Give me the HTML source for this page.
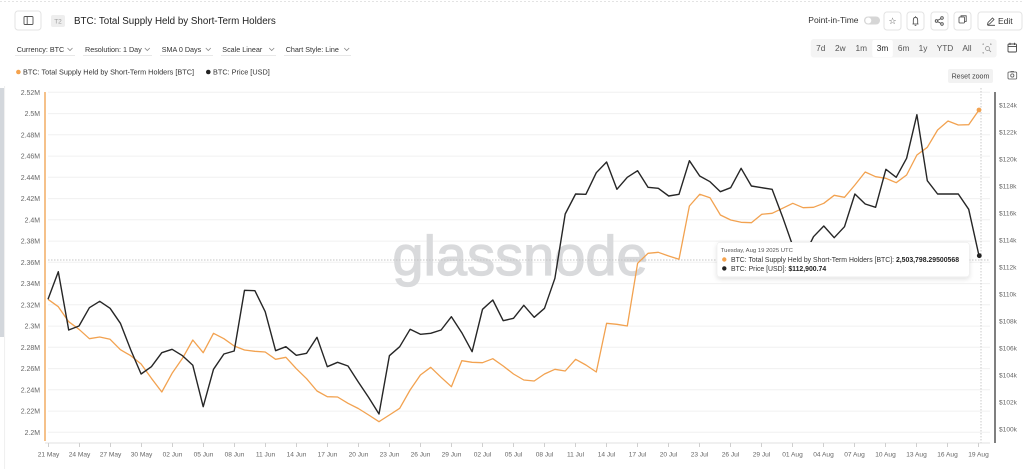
<!DOCTYPE html>
<html>
<head>
<meta charset="utf-8">
<style>
  html,body{margin:0;padding:0;background:#fff;}
  body{width:1024px;height:469px;overflow:hidden;}
  svg{display:block;font-family:"Liberation Sans","DejaVu Sans",sans-serif;}
</style>
</head>
<body>
<svg width="1024" height="469" viewBox="0 0 1024 469" xmlns="http://www.w3.org/2000/svg">
  <defs>
    <filter id="sh" x="-10%" y="-30%" width="120%" height="180%">
      <feDropShadow dx="0" dy="2" stdDeviation="2.5" flood-color="#000" flood-opacity="0.12"/>
    </filter>
  </defs>
  <rect width="1024" height="469" fill="#fff"/>
  <line x1="0" y1="1.5" x2="1024" y2="1.5" stroke="#e3e3e3" stroke-dasharray="2,2"/>
  <rect x="0" y="88" width="4" height="249" fill="#d3d7dc"/>
  <line x1="4.6" y1="86" x2="4.6" y2="469" stroke="#eeeeee"/>

  <rect x="15" y="11" width="26" height="19" rx="3" fill="#fff" stroke="#e3e3e3"/>
  <rect x="24" y="16.5" width="9" height="8" rx="1" fill="none" stroke="#555" stroke-width="0.9"/>
  <line x1="27.2" y1="16.5" x2="27.2" y2="24.5" stroke="#555" stroke-width="0.9"/>
  <rect x="51" y="15" width="14" height="12" rx="2" fill="#eeeeee"/>
  <text x="58" y="23.3" font-size="6.5" fill="#9a9a9a" text-anchor="middle">T2</text>
  <text x="74" y="23.8" font-size="9.8" fill="#222">BTC: Total Supply Held by Short-Term Holders</text>

  <text x="808.3" y="23" font-size="8.5" fill="#333">Point-in-Time</text>
  <rect x="864" y="16.5" width="16" height="8" rx="4" fill="#d6d6d6"/>
  <circle cx="868.3" cy="20.5" r="3" fill="#fff"/>

  <rect x="884" y="12" width="17" height="18" rx="3" fill="#fff" stroke="#e3e3e3"/>
  <text x="892.5" y="24.2" font-size="9" fill="#444" text-anchor="middle" font-family="DejaVu Sans">☆</text>
  <rect x="907" y="12" width="17" height="18" rx="3" fill="#fff" stroke="#e3e3e3"/>
  <path d="M912.5,24 L918.5,24 M913.3,24 L913.3,20.5 Q913.3,17.3 915.5,17.3 Q917.7,17.3 917.7,20.5 L917.7,24 M915.5,16.3 L915.5,17.3 M914.7,25.3 L916.3,25.3" stroke="#444" stroke-width="0.8" fill="none"/>
  <rect x="931" y="12" width="17" height="18" rx="3" fill="#fff" stroke="#e3e3e3"/>
  <circle cx="936.5" cy="21" r="1.3" fill="none" stroke="#444" stroke-width="0.8"/>
  <circle cx="942" cy="18" r="1.3" fill="none" stroke="#444" stroke-width="0.8"/>
  <circle cx="942" cy="24" r="1.3" fill="none" stroke="#444" stroke-width="0.8"/>
  <path d="M937.6,20.4 L940.9,18.6 M937.6,21.6 L940.9,23.4" stroke="#444" stroke-width="0.8"/>
  <rect x="954" y="12" width="17" height="18" rx="3" fill="#fff" stroke="#e3e3e3"/>
  <rect x="959" y="17" width="5.5" height="6" rx="0.8" fill="none" stroke="#444" stroke-width="0.8"/>
  <path d="M961,17 L961,15.8 L966.2,15.8 L966.2,21.5 L964.5,21.5" fill="none" stroke="#444" stroke-width="0.8"/>
  <rect x="978" y="12" width="44" height="18" rx="3" fill="#fff" stroke="#e3e3e3"/>
  <path d="M987.5,24.5 L988,22.5 L992.5,18 L994,19.5 L989.5,24 Z M987.5,25.3 L995,25.3" fill="none" stroke="#444" stroke-width="0.8"/>
  <text x="998" y="23.8" font-size="8.5" fill="#333">Edit</text>

  <g font-size="7.2" fill="#333">
    <text x="16.7" y="51.8">Currency: BTC</text>
    <text x="85" y="51.8">Resolution: 1 Day</text>
    <text x="161.7" y="51.8">SMA 0 Days</text>
    <text x="222.3" y="51.8">Scale Linear</text>
    <text x="285.7" y="51.8">Chart Style: Line</text>
  </g>
  <g stroke="#888" stroke-width="0.8" fill="none">
    <polyline points="67.5,48 70,50.5 72.5,48"/>
    <polyline points="144.8,48 147.3,50.5 149.8,48"/>
    <polyline points="205.8,48 208.3,50.5 210.8,48"/>
    <polyline points="269.2,48 271.7,50.5 274.2,48"/>
    <polyline points="344.2,48 346.7,50.5 349.2,48"/>
  </g>
  <g stroke="#e8e8e8" stroke-width="1">
    <line x1="15" y1="55.5" x2="75" y2="55.5"/>
    <line x1="83" y1="55.5" x2="152" y2="55.5"/>
    <line x1="160" y1="55.5" x2="213" y2="55.5"/>
    <line x1="221" y1="55.5" x2="276" y2="55.5"/>
    <line x1="284" y1="55.5" x2="351" y2="55.5"/>
  </g>

  <rect x="810.7" y="39" width="186" height="18.5" rx="3" fill="#f4f4f4"/>
  <rect x="872.3" y="40" width="20.5" height="17" rx="2" fill="#fff"/>
  <g font-size="8.3" fill="#555" text-anchor="middle">
    <text x="820.7" y="51.2">7d</text>
    <text x="840.3" y="51.2">2w</text>
    <text x="861.3" y="51.2">1m</text>
    <text x="882.5" y="51.2" fill="#222">3m</text>
    <text x="903.7" y="51.2">6m</text>
    <text x="923" y="51.2">1y</text>
    <text x="945" y="51.2">YTD</text>
    <text x="967" y="51.2">All</text>
  </g>
  <path d="M983,45 L983,44 L984,44 M990,44 L991,44 L991,45 M983,52 L983,53 L984,53" stroke="#888" stroke-width="0.7" fill="none"/>
  <circle cx="987.5" cy="48.5" r="2" fill="none" stroke="#888" stroke-width="0.7"/>
  <line x1="989" y1="50" x2="991" y2="52" stroke="#888" stroke-width="0.7"/>
  <rect x="1008" y="44" width="8.5" height="8" rx="1" fill="none" stroke="#444" stroke-width="0.9"/>
  <line x1="1008" y1="46.5" x2="1016.5" y2="46.5" stroke="#444" stroke-width="0.9"/>
  <path d="M1010,42.8 L1010,45 M1014.5,42.8 L1014.5,45" stroke="#444" stroke-width="0.9"/>

  <circle cx="18.4" cy="72" r="2.3" fill="#f5a34e"/>
  <text x="23" y="74.6" font-size="7.3" fill="#333">BTC: Total Supply Held by Short-Term Holders [BTC]</text>
  <circle cx="208.3" cy="72" r="2.3" fill="#222"/>
  <text x="213" y="74.6" font-size="7.3" fill="#333">BTC: Price [USD]</text>

  <rect x="948" y="69" width="45" height="14" rx="2" fill="#f2f2f2"/>
  <text x="970.5" y="78.4" font-size="7.1" fill="#444" text-anchor="middle">Reset zoom</text>
  <rect x="1008" y="72" width="8.7" height="7" rx="1" fill="none" stroke="#555" stroke-width="0.8"/>
  <circle cx="1012.3" cy="75.5" r="1.6" fill="none" stroke="#555" stroke-width="0.8"/>
  <line x1="1010.5" y1="71.5" x2="1014" y2="71.5" stroke="#555" stroke-width="0.8"/>

  <g stroke="#f0f0f0" stroke-width="1">
    <line x1="48" y1="92.3" x2="990" y2="92.3"/>
    <line x1="48" y1="113.6" x2="990" y2="113.6"/>
    <line x1="48" y1="134.8" x2="990" y2="134.8"/>
    <line x1="48" y1="156.1" x2="990" y2="156.1"/>
    <line x1="48" y1="177.3" x2="990" y2="177.3"/>
    <line x1="48" y1="198.6" x2="990" y2="198.6"/>
    <line x1="48" y1="219.8" x2="990" y2="219.8"/>
    <line x1="48" y1="241.1" x2="990" y2="241.1"/>
    <line x1="48" y1="262.3" x2="990" y2="262.3"/>
    <line x1="48" y1="283.6" x2="990" y2="283.6"/>
    <line x1="48" y1="304.8" x2="990" y2="304.8"/>
    <line x1="48" y1="326.1" x2="990" y2="326.1"/>
    <line x1="48" y1="347.3" x2="990" y2="347.3"/>
    <line x1="48" y1="368.6" x2="990" y2="368.6"/>
    <line x1="48" y1="389.8" x2="990" y2="389.8"/>
    <line x1="48" y1="411.1" x2="990" y2="411.1"/>
    <line x1="48" y1="432.3" x2="990" y2="432.3"/>
  </g>

  <text x="520" y="275" font-size="56" fill="#d9dadc" stroke="#d9dadc" stroke-width="1.2" text-anchor="middle">glassnode</text>

  <line x1="48" y1="260" x2="990" y2="260" stroke="#c4c4c4" stroke-width="0.9" stroke-dasharray="1.5,1.5"/>
  <line x1="981" y1="88" x2="981" y2="443" stroke="#c4c4c4" stroke-width="0.9" stroke-dasharray="1.5,1.5"/>

  <line x1="45" y1="443" x2="990" y2="443" stroke="#e2e2e2"/>
  <g stroke="#cfcfcf">
    <line x1="48.5" y1="443" x2="48.5" y2="447"/><line x1="79.5" y1="443" x2="79.5" y2="447"/><line x1="110.5" y1="443" x2="110.5" y2="447"/><line x1="141.5" y1="443" x2="141.5" y2="447"/><line x1="172.5" y1="443" x2="172.5" y2="447"/><line x1="203.5" y1="443" x2="203.5" y2="447"/><line x1="234.5" y1="443" x2="234.5" y2="447"/><line x1="265.5" y1="443" x2="265.5" y2="447"/><line x1="296.5" y1="443" x2="296.5" y2="447"/><line x1="327.5" y1="443" x2="327.5" y2="447"/><line x1="358.5" y1="443" x2="358.5" y2="447"/><line x1="389.5" y1="443" x2="389.5" y2="447"/><line x1="420.5" y1="443" x2="420.5" y2="447"/><line x1="451.5" y1="443" x2="451.5" y2="447"/><line x1="482.5" y1="443" x2="482.5" y2="447"/><line x1="513.5" y1="443" x2="513.5" y2="447"/><line x1="544.5" y1="443" x2="544.5" y2="447"/><line x1="575.5" y1="443" x2="575.5" y2="447"/><line x1="606.5" y1="443" x2="606.5" y2="447"/><line x1="637.5" y1="443" x2="637.5" y2="447"/><line x1="668.5" y1="443" x2="668.5" y2="447"/><line x1="699.5" y1="443" x2="699.5" y2="447"/><line x1="730.5" y1="443" x2="730.5" y2="447"/><line x1="761.5" y1="443" x2="761.5" y2="447"/><line x1="792.5" y1="443" x2="792.5" y2="447"/><line x1="823.5" y1="443" x2="823.5" y2="447"/><line x1="854.5" y1="443" x2="854.5" y2="447"/><line x1="885.5" y1="443" x2="885.5" y2="447"/><line x1="916.5" y1="443" x2="916.5" y2="447"/><line x1="947.5" y1="443" x2="947.5" y2="447"/><line x1="978.5" y1="443" x2="978.5" y2="447"/>
  </g>
  <g font-size="6.6" fill="#666" text-anchor="middle">
    <text x="48.5" y="456.6">21 May</text><text x="79.5" y="456.6">24 May</text><text x="110.5" y="456.6">27 May</text><text x="141.5" y="456.6">30 May</text><text x="172.5" y="456.6">02 Jun</text><text x="203.5" y="456.6">05 Jun</text><text x="234.5" y="456.6">08 Jun</text><text x="265.5" y="456.6">11 Jun</text><text x="296.5" y="456.6">14 Jun</text><text x="327.5" y="456.6">17 Jun</text><text x="358.5" y="456.6">20 Jun</text><text x="389.5" y="456.6">23 Jun</text><text x="420.5" y="456.6">26 Jun</text><text x="451.5" y="456.6">29 Jun</text><text x="482.5" y="456.6">02 Jul</text><text x="513.5" y="456.6">05 Jul</text><text x="544.5" y="456.6">08 Jul</text><text x="575.5" y="456.6">11 Jul</text><text x="606.5" y="456.6">14 Jul</text><text x="637.5" y="456.6">17 Jul</text><text x="668.5" y="456.6">20 Jul</text><text x="699.5" y="456.6">23 Jul</text><text x="730.5" y="456.6">26 Jul</text><text x="761.5" y="456.6">29 Jul</text><text x="792.5" y="456.6">01 Aug</text><text x="823.5" y="456.6">04 Aug</text><text x="854.5" y="456.6">07 Aug</text><text x="885.5" y="456.6">10 Aug</text><text x="916.5" y="456.6">13 Aug</text><text x="947.5" y="456.6">16 Aug</text><text x="978.5" y="456.6">19 Aug</text>
  </g>

  <line x1="45" y1="92" x2="45" y2="441" stroke="#f5c18a" stroke-width="2"/>
  <g font-size="6.95" fill="#666" text-anchor="end">
    <text x="40" y="94.8">2.52M</text><text x="40" y="116.1">2.5M</text><text x="40" y="137.3">2.48M</text><text x="40" y="158.6">2.46M</text><text x="40" y="179.8">2.44M</text><text x="40" y="201.1">2.42M</text><text x="40" y="222.3">2.4M</text><text x="40" y="243.6">2.38M</text><text x="40" y="264.8">2.36M</text><text x="40" y="286.1">2.34M</text><text x="40" y="307.3">2.32M</text><text x="40" y="328.6">2.3M</text><text x="40" y="349.8">2.28M</text><text x="40" y="371.1">2.26M</text><text x="40" y="392.3">2.24M</text><text x="40" y="413.6">2.22M</text><text x="40" y="434.8">2.2M</text>
  </g>

  <line x1="995" y1="92" x2="995" y2="443" stroke="#555" stroke-width="1.5"/>
  <g font-size="6.6" fill="#666">
    <text x="999" y="107.4">$124k</text><text x="999" y="134.4">$122k</text><text x="999" y="161.4">$120k</text><text x="999" y="188.4">$118k</text><text x="999" y="215.4">$116k</text><text x="999" y="242.4">$114k</text><text x="999" y="269.4">$112k</text><text x="999" y="296.4">$110k</text><text x="999" y="323.4">$108k</text><text x="999" y="350.4">$106k</text><text x="999" y="377.4">$104k</text><text x="999" y="404.4">$102k</text><text x="999" y="431.4">$100k</text>
  </g>

  <polyline fill="none" stroke="#f2a250" stroke-width="1.3" stroke-linejoin="round" points="48,299.3 58.3,306.7 68.7,321.7 79,329.3 89.4,338.7 99.7,337 110.1,339.3 120.4,349.7 130.8,355.7 141.1,364 151.4,378.3 161.8,392 172.1,373.3 182.5,358.3 192.8,340 203.2,352.7 213.5,333.3 223.9,338.7 234.2,346 244.5,350 254.9,351.3 265.2,352 275.6,359.3 285.9,357.3 296.3,368.7 306.6,378.7 317,391 327.3,396.7 337.6,397 348,403.3 358.3,408.5 368.7,415 379,421.7 389.4,415 399.7,408.3 410.1,390 420.4,375 430.7,367.3 441.1,377.3 451.4,386.7 461.8,360.7 472.1,362.3 482.5,362.7 492.8,358.7 503.2,366 513.5,374 523.8,380 534.2,381 544.5,374 554.9,369.3 565.2,371 575.6,359.3 585.9,365 596.3,372 606.6,323.3 616.9,324.3 627.3,326 637.6,263.3 648,253.3 658.3,252.3 668.7,256 679,259.3 689.4,206 699.7,194.3 710,197.7 720.4,215 730.7,220 741.1,222.3 751.4,222.7 761.8,214.3 772.1,213.3 782.5,208.3 792.8,203.3 803.1,207.7 813.5,207.3 823.8,203.3 834.2,195.3 844.5,197.3 854.9,185 865.2,172 875.6,176.7 885.9,178.3 896.2,182.7 906.6,175 916.9,155 927.3,147.3 937.6,130 948,121 958.3,125 968.7,124.7 979,110"/>
  <polyline fill="none" stroke="#262626" stroke-width="1.4" stroke-linejoin="round" points="48,299.3 58.3,271.7 68.7,330 79,326 89.4,307.7 99.7,301.3 110.1,308.3 120.4,323.3 130.8,350 141.1,374 151.4,366.7 161.8,352.7 172.1,349.3 182.5,355.7 192.8,365.3 203.2,406.7 213.5,369.3 223.9,354 234.2,351 244.5,290.3 254.9,290.7 265.2,311.7 275.6,350.7 285.9,346.7 296.3,355.3 306.6,353.3 317,337.3 327.3,366.7 337.6,362.3 348,366 358.3,382 368.7,397.5 379,414 389.4,355.7 399.7,346.7 410.1,329.3 420.4,334.3 430.7,333.3 441.1,330 451.4,316.7 461.8,332.7 472.1,351.7 482.5,309.3 492.8,300 503.2,320.7 513.5,318.3 523.8,305.3 534.2,317.3 544.5,308.3 554.9,278.3 565.2,214 575.6,194 585.9,194.3 596.3,172.7 606.6,162 616.9,189.3 627.3,177.3 637.6,170.7 648,187.3 658.3,188.3 668.7,196 679,194.3 689.4,160.7 699.7,176 710,181.7 720.4,191.7 730.7,187.7 741.1,168.3 751.4,186 761.8,187.7 772.1,189.3 782.5,216.7 792.8,246 803.1,258 813.5,236.7 823.8,226 834.2,237.7 844.5,226.7 854.9,194 865.2,204 875.6,207.3 885.9,169.3 896.2,177.3 906.6,158.3 916.9,114.7 927.3,180.7 937.6,194 948,194 958.3,194 968.7,209.3 979,255.7"/>
  <circle cx="979" cy="110" r="2.4" fill="#f2a250"/>
  <circle cx="979.3" cy="255.7" r="2.4" fill="#222"/>

  <rect x="717" y="242.3" width="252.3" height="34.5" rx="3" fill="#fff" stroke="#ececec" stroke-width="0.6" filter="url(#sh)"/>
  <text x="720.8" y="252.2" font-size="5.9" fill="#555">Tuesday, Aug 19 2025 UTC</text>
  <circle cx="724.3" cy="259.5" r="2.2" fill="#f5a34e"/>
  <text x="731" y="262" font-size="6.88" fill="#333">BTC: Total Supply Held by Short-Term Holders [BTC]: <tspan font-weight="bold" fill="#222">2,503,798.29500568</tspan></text>
  <circle cx="724.3" cy="268.4" r="2.2" fill="#222"/>
  <text x="731" y="270.9" font-size="6.88" fill="#333">BTC: Price [USD]: <tspan font-weight="bold" fill="#222">$112,900.74</tspan></text>
</svg>
</body>
</html>
